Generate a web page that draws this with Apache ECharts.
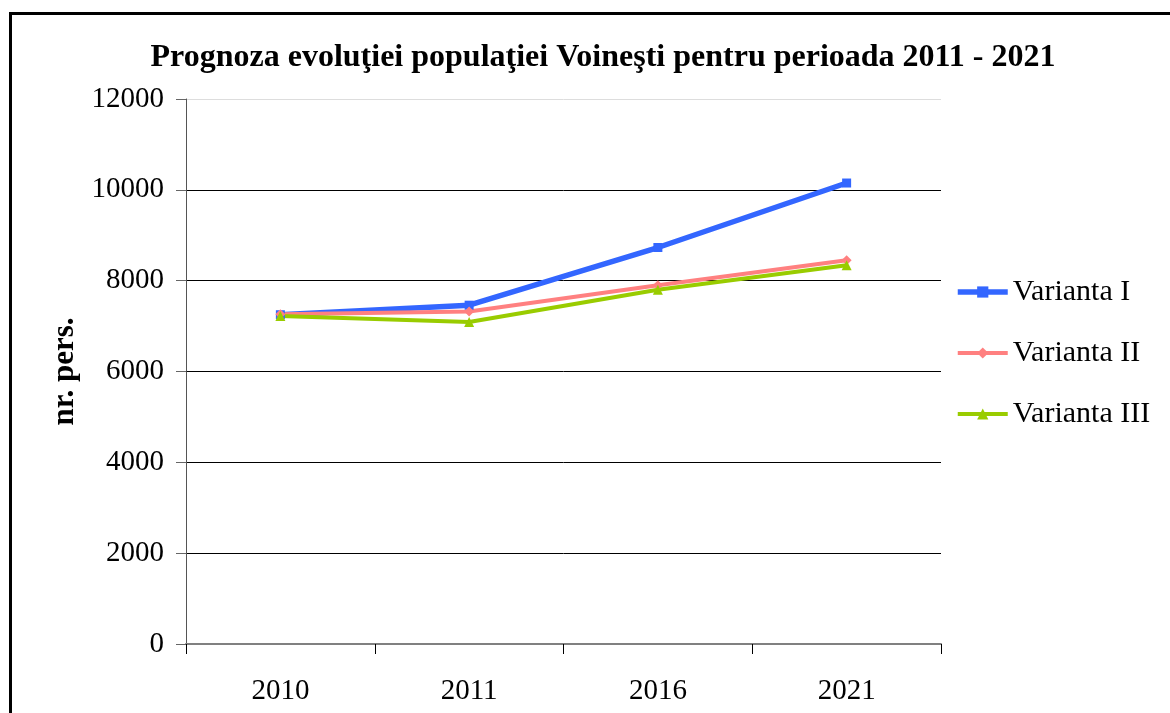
<!DOCTYPE html>
<html>
<head>
<meta charset="utf-8">
<script src="https://cdn.jsdelivr.net/npm/echarts@6/dist/echarts.min.js"></script>
<style>
  html, body { margin: 0; padding: 0; background: #fff; }
  #chart { width: 1170px; height: 713px; }
</style>
</head>
<body>
<div id="chart"></div>
<script>
// valorile
var years = ['2010', '2011', '2016', '2021'];
var variantaI = [7250, 7460, 8730, 10150];
var variantaII = [7260, 7320, 7900, 8450];
var variantaIII = [7220, 7090, 7800, 8340];
var seriesNames = ['Varianta I', 'Varianta II', 'Varianta III'];

var serif = '"Liberation Serif", "DejaVu Serif", serif';
var colors = {
    v1: '#3366ff',
    v2: '#ff8080',
    v3: '#99cc00'
};

var chart = echarts.init(document.getElementById('chart'));

var option = {
    backgroundColor: '#fff',
    animation: false,
    title: {
        text: 'Prognoza evoluţiei populaţiei Voineşti pentru perioada 2011 - 2021',
        left: 598,
        textAlign: 'center',
        top: 37,
        textStyle: {
            fontFamily: serif,
            fontWeight: 'bold',
            fontSize: 32,
            color: '#000'
        }
    },
    graphic: [{
        type: 'rect',
        shape: { x: 10.5, y: 13.5, width: 1300, height: 800 },
        style: { fill: null, stroke: '#000', lineWidth: 3 },
        silent: true
    }],
    legend: {
        orient: 'vertical',
        left: 955,
        top: 277,
        padding: 0,
        itemWidth: 50,
        itemHeight: 14,
        itemGap: 31,
        data: [
            { name: seriesNames[0], lineStyle: { width: 5.5 } },
            { name: seriesNames[1], lineStyle: { width: 4 } },
            { name: seriesNames[2], lineStyle: { width: 4 } }
        ],
        textStyle: {
            fontFamily: serif,
            fontSize: 30,
            lineHeight: 30,
            color: '#000'
        }
    },
    grid: {
        left: 186,
        right: 229,
        top: 99,
        bottom: 69,
        containLabel: false
    },
    xAxis: {
        type: 'category',
        data: years,
        boundaryGap: true,
        axisLine: { lineStyle: { color: '#808080', width: 2 } },
        axisTick: {
            show: true,
            length: 10,
            alignWithLabel: false,
            lineStyle: { color: '#000', width: 1 }
        },
        axisLabel: {
            margin: 33,
            fontFamily: serif,
            fontSize: 29,
            color: '#000'
        }
    },
    yAxis: {
        type: 'value',
        min: 0,
        max: 12000,
        interval: 2000,
        name: 'nr. pers.',
        nameLocation: 'middle',
        nameGap: 106,
        nameTextStyle: {
            fontFamily: serif,
            fontWeight: 'bold',
            fontSize: 31,
            color: '#000'
        },
        axisLine: { show: true, lineStyle: { color: '#555', width: 1 } },
        axisTick: { show: true, length: 10, lineStyle: { color: '#666' } },
        axisLabel: {
            margin: 22,
            fontFamily: serif,
            fontSize: 29,
            color: '#000',
            formatter: function (v) { return String(v); }
        },
        splitLine: {
            show: true,
            lineStyle: {
                color: ['#000', '#000', '#000', '#000', '#000', '#000', '#dddddd'],
                width: 1
            }
        }
    },
    series: [{
        name: seriesNames[0],
        type: 'line',
        data: variantaI,
        symbol: 'rect',
        symbolSize: 9,
        color: colors.v1,
        lineStyle: { width: 5.5, color: colors.v1 },
        itemStyle: { color: colors.v1 }
    }, {
        name: seriesNames[1],
        type: 'line',
        data: variantaII,
        symbol: 'diamond',
        symbolSize: 10,
        color: colors.v2,
        lineStyle: { width: 4, color: colors.v2 },
        itemStyle: { color: colors.v2 }
    }, {
        name: seriesNames[2],
        type: 'line',
        data: variantaIII,
        symbol: 'triangle',
        symbolSize: 10,
        color: colors.v3,
        lineStyle: { width: 4, color: colors.v3 },
        itemStyle: { color: colors.v3 }
    }]
};

chart.setOption(option);
</script>
</body>
</html>
